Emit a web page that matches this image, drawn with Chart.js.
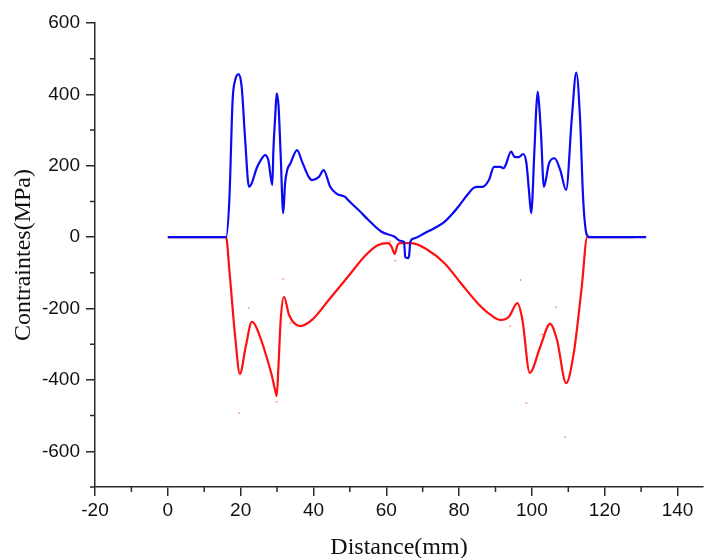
<!DOCTYPE html>
<html>
<head>
<meta charset="utf-8">
<script src="https://cdn.jsdelivr.net/npm/chart.js@4/dist/chart.umd.min.js"></script>
<style>
  html, body { margin: 0; padding: 0; background: #fff; }
  #wrap { width: 707px; height: 558px; position: relative; }
</style>
</head>
<body>
<div id="wrap"><canvas id="c"></canvas></div>
<script>
// Upper (tensile) stress profile along the path
const upperX = [0, 16, 16.9, 17.8, 18.5, 19.5, 20.3, 21.2, 22.3, 23.0, 24.4, 25.5, 26.7, 27.6, 28.7, 29.0, 29.5, 29.9, 30.4, 31.0, 31.7, 32.2, 32.8, 33.7, 35.5, 36.9, 38.7, 39.6, 41.5, 42.8, 44.6, 46.4, 48.7, 49.5, 52.4, 55.1, 58.7, 62.3, 63.7, 64.9, 65.2, 65.9, 66.3, 66.6, 67.8, 70.5, 73.2, 76.0, 78.3, 80.0, 82.4, 84.0, 85.1, 86.4, 88.2, 89.6, 91.4, 92.2, 92.8, 94.3, 95.2, 96.4, 97.6, 98.5, 99.2, 99.8, 100.7, 101.2, 101.6, 102.0, 102.5, 103.3, 104.7, 106.2, 107.8, 109.4, 111.0, 112.2, 113.2, 114.1, 115.1, 116.0, 131.4];
const upperY = [0, 0, 104, 384, 440, 457, 420, 280, 141, 150, 193, 215, 230, 216, 146, 244, 338, 403, 370, 230, 67, 150, 188, 207, 244, 211, 169, 160, 169, 188, 141, 121, 113, 104, 76, 48, 15, 1, -10, -13, -55, -59, -50, -13, -3, 11, 25, 43, 67, 88, 120, 138, 141, 141, 160, 197, 197, 193, 202, 240, 225, 224, 233, 207, 130, 67, 244, 360, 408, 370, 291, 141, 207, 221, 188, 132, 338, 461, 338, 104, 6, 0, 0];

// Lower (compressive) stress profile along the path
const lowerX = [0, 16, 16.9, 18.5, 19.8, 21.4, 23.1, 24.2, 26.2, 28.5, 29.5, 29.9, 30.4, 31.0, 31.9, 33.3, 36.4, 39.6, 44.2, 49.3, 54.4, 57.8, 60.5, 61.5, 62.3, 63.0, 63.7, 66.9, 71.4, 76.0, 80.5, 85.1, 88.7, 91.4, 93.7, 96.0, 97.4, 99.4, 102.3, 105.0, 106.9, 109.4, 111.5, 113.7, 115.2, 128.2];
const lowerY = [0, 0, -92, -279, -383, -307, -237, -250, -305, -385, -430, -445, -360, -232, -167, -218, -249, -232, -176, -113, -50, -22, -17, -28, -47, -25, -17, -17, -36, -73, -129, -185, -218, -232, -223, -185, -232, -380, -307, -243, -288, -409, -325, -139, 0, 0];

// Isolated measurement points
const strayX = [19.6, 22.2, 31.7, 29.9, 33.7, 62.5, 61.0, 96.9, 106.6, 94.0, 98.5, 109.1, 102.8];
const strayY = [-493, -198, -117, -461, -240, -66, -12, -120, -196, -249, -465, -560, -272];

// Axis ticks
const xTickValues = [-20, 0, 20, 40, 60, 80, 100, 120, 140];
const xMinorValues = [-10, 10, 30, 50, 70, 90, 110, 130];
const yTickValues = [-600, -400, -200, 0, 200, 400, 600];
const yMinorValues = [-700, -500, -300, -100, 100, 300, 500];

const toPoints = (xs, ys) => xs.map((x, i) => ({ x: x, y: ys[i] }));

const AXIS_COLOR = '#2a2a2a';

// Short outward minor ticks on both axes
const minorTicks = {
  id: 'minorTicks',
  afterDraw(chart) {
    const ctx = chart.ctx;
    const xs = chart.scales.x, ys = chart.scales.y;
    ctx.save();
    ctx.strokeStyle = AXIS_COLOR;
    ctx.lineWidth = 1.5;
    ctx.beginPath();
    xMinorValues.forEach(v => {
      const px = xs.getPixelForValue(v);
      ctx.moveTo(px, xs.top);
      ctx.lineTo(px, xs.top + 5);
    });
    yMinorValues.forEach(v => {
      const py = ys.getPixelForValue(v);
      ctx.moveTo(ys.right, py);
      ctx.lineTo(ys.right - 5, py);
    });
    ctx.stroke();
    ctx.restore();
  }
};

new Chart(document.getElementById('c'), {
  type: 'line',
  data: {
    datasets: [
      {
        data: toPoints(upperX, upperY),
        borderColor: '#0a0af5',
        borderWidth: 2.2,
        pointRadius: 0,
        cubicInterpolationMode: 'monotone',
        fill: false
      },
      {
        data: toPoints(lowerX, lowerY),
        borderColor: '#ff1010',
        borderWidth: 2.2,
        pointRadius: 0,
        cubicInterpolationMode: 'monotone',
        fill: false
      },
      {
        data: toPoints(strayX, strayY),
        showLine: false,
        pointRadius: 0.9,
        pointBorderWidth: 0,
        pointBackgroundColor: 'rgba(255,60,60,0.6)'
      }
    ]
  },
  options: {
    responsive: true,
    maintainAspectRatio: false,
    animation: false,
    layout: { padding: { top: 23, right: 0, left: 0, bottom: 0 } },
    plugins: { legend: { display: false }, tooltip: { enabled: false } },
    scales: {
      x: {
        type: 'linear',
        min: -20,
        max: 147,
        afterBuildTicks: s => { s.ticks = xTickValues.map(v => ({ value: v })); },
        afterFit: s => { s.height = 71; },
        grid: { drawOnChartArea: false, drawTicks: true, tickLength: 9, color: AXIS_COLOR, lineWidth: 1.5 },
        border: { display: true, color: AXIS_COLOR, width: 1.5 },
        ticks: {
          padding: 3,
          maxRotation: 0,
          color: '#111',
          font: { family: '"Liberation Sans", Arial, sans-serif', size: 19 }
        },
        title: {
          display: true,
          text: 'Distance(mm)',
          color: '#111',
          padding: { top: 0, bottom: 0 },
          font: { family: '"Liberation Serif", "Times New Roman", serif', size: 24, lineHeight: 0.84 }
        }
      },
      y: {
        type: 'linear',
        min: -700,
        max: 600,
        afterBuildTicks: s => { s.ticks = yTickValues.map(v => ({ value: v })); },
        afterFit: s => { s.width = 95; },
        grid: { drawOnChartArea: false, drawTicks: true, tickLength: 9, color: AXIS_COLOR, lineWidth: 1.5 },
        border: { display: true, color: AXIS_COLOR, width: 1.5 },
        ticks: {
          padding: 6,
          color: '#111',
          font: { family: '"Liberation Sans", Arial, sans-serif', size: 19 }
        },
        title: {
          display: true,
          text: 'Contraintes(MPa)',
          color: '#111',
          padding: { top: 9.6, bottom: 0 },
          font: { family: '"Liberation Serif", "Times New Roman", serif', size: 24 }
        }
      }
    }
  },
  plugins: [minorTicks]
});
</script>
</body>
</html>
